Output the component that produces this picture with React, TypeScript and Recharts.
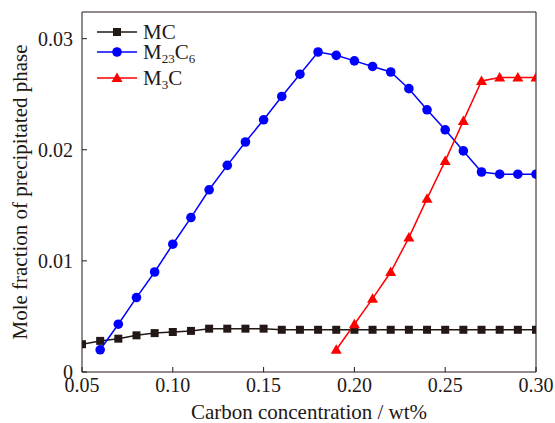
import { LineChart, Line, XAxis, YAxis } from "recharts";

const carbon = [
  0.05, 0.06, 0.07, 0.08, 0.09, 0.1, 0.11, 0.12, 0.13, 0.14, 0.15, 0.16, 0.17,
  0.18, 0.19, 0.2, 0.21, 0.22, 0.23, 0.24, 0.25, 0.26, 0.27, 0.28, 0.29, 0.3,
];

const mcFraction = [
  0.0025, 0.0028, 0.003, 0.0033, 0.0035, 0.0036, 0.0037, 0.0039, 0.0039, 0.0039,
  0.0039, 0.0038, 0.0038, 0.0038, 0.0038, 0.0038, 0.0038, 0.0038, 0.0038, 0.0038,
  0.0038, 0.0038, 0.0038, 0.0038, 0.0038, 0.0038,
];

const m23c6Fraction = [
  null, 0.002, 0.0043, 0.0067, 0.009, 0.0115, 0.0139, 0.0164, 0.0186, 0.0207,
  0.0227, 0.0248, 0.0268, 0.0288, 0.0285, 0.028, 0.0275, 0.027, 0.0255, 0.0236,
  0.0218, 0.0199, 0.018, 0.0178, 0.0178, 0.0178,
];

const m3cFraction = [
  null, null, null, null, null, null, null, null, null, null, null, null, null,
  null, 0.002, 0.0043, 0.0066, 0.009, 0.0121, 0.0156, 0.019, 0.0226, 0.0262,
  0.0265, 0.0265, 0.0265,
];

const xTicks = [0.05, 0.1, 0.15, 0.2, 0.25, 0.3];
const yTicks = [0, 0.01, 0.02, 0.03];

const data = carbon.map((c, i) => ({
  carbon: c,
  mc: mcFraction[i],
  m23c6: m23c6Fraction[i],
  m3c: m3cFraction[i],
}));

const font = '"Liberation Serif", "Times New Roman", serif';
const BLACK = "#231815";
const BLUE = "#0000ff";
const RED = "#ff0000";

const Square = (p: any) =>
  p.cy == null ? null : (
    <rect key={p.index} x={p.cx - 4} y={p.cy - 4} width={8} height={8} fill={BLACK} />
  );
const Circle = (p: any) =>
  p.cy == null ? null : <circle key={p.index} cx={p.cx} cy={p.cy} r={4.8} fill={BLUE} />;
const Triangle = (p: any) =>
  p.cy == null ? null : (
    <path
      key={p.index}
      d={`M${p.cx},${p.cy - 5.5} L${p.cx + 5.5},${p.cy + 4} L${p.cx - 5.5},${p.cy + 4} Z`}
      fill={RED}
    />
  );

const sub = { fontSize: 13, verticalAlign: "-4px", lineHeight: 0 } as const;

const legendRows = [
  { key: "mc", color: BLACK, marker: "square", top: 22, label: <>MC</> },
  {
    key: "m23c6",
    color: BLUE,
    marker: "circle",
    top: 42,
    label: (
      <>
        M<span style={sub}>23</span>C<span style={sub}>6</span>
      </>
    ),
  },
  {
    key: "m3c",
    color: RED,
    marker: "triangle",
    top: 68,
    label: (
      <>
        M<span style={sub}>3</span>C
      </>
    ),
  },
];

function LegendBox() {
  return (
    <div style={{ position: "absolute", left: 96, top: 0, fontFamily: font, pointerEvents: "none" }}>
      {legendRows.map((r) => (
        <div
          key={r.key}
          style={{ position: "absolute", left: 0, top: r.top, display: "flex", alignItems: "center", height: 20, whiteSpace: "nowrap" }}
        >
          <svg width={42} height={14} style={{ display: "block" }}>
            <line x1={1} y1={7} x2={41} y2={7} stroke={r.color} strokeWidth={1.5} />
            {r.marker === "square" && <rect x={17} y={3} width={8} height={8} fill={r.color} />}
            {r.marker === "circle" && <circle cx={21} cy={7} r={4.8} fill={r.color} />}
            {r.marker === "triangle" && <path d="M21,1.5 L26.5,11 L15.5,11 Z" fill={r.color} />}
          </svg>
          <span style={{ fontSize: 21, color: BLACK, marginLeft: 5, lineHeight: "20px" }}>{r.label}</span>
        </div>
      ))}
    </div>
  );
}

export default function App() {
  return (
    <div style={{ position: "absolute", left: 0, top: 0, width: 555, height: 423, background: "#fff" }}>
      <LineChart width={555} height={423} data={data} margin={{ top: 11, right: 18, bottom: 0, left: 0 }}>
        <XAxis
          dataKey="carbon"
          type="number"
          domain={[0.05, 0.3]}
          ticks={xTicks}
          tickFormatter={(v: number) => v.toFixed(2)}
          allowDataOverflow
          height={51}
          stroke={BLACK}
          tickSize={-5}
          tickMargin={11}
          tick={{ fill: BLACK, fontSize: 20, fontFamily: font }}
          label={{ value: "Carbon concentration / wt%", position: "center", dy: 14, fill: BLACK, fontSize: 21, fontFamily: font }}
        />
        <XAxis xAxisId="top" orientation="top" dataKey="carbon" type="number" domain={[0.05, 0.3]} height={1} tick={false} tickLine={false} stroke={BLACK} />
        <YAxis
          domain={[0, 0.0324]}
          ticks={yTicks}
          tickFormatter={(v: number) => (v === 0 ? "0" : v.toFixed(2))}
          allowDataOverflow
          width={82}
          stroke={BLACK}
          tickSize={-5}
          tickMargin={14}
          tick={{ fill: BLACK, fontSize: 20, fontFamily: font }}
          label={{ value: "Mole fraction of precipitated phase", angle: -90, position: "center", dx: -21, fill: BLACK, fontSize: 21, fontFamily: font }}
        />
        <YAxis yAxisId="right" orientation="right" domain={[0, 0.0324]} width={1} tick={false} tickLine={false} stroke={BLACK} />
        <Line dataKey="mc" stroke={BLACK} strokeWidth={1.5} dot={Square} activeDot={false} isAnimationActive={false} />
        <Line dataKey="m23c6" stroke={BLUE} strokeWidth={1.5} dot={Circle} activeDot={false} isAnimationActive={false} />
        <Line dataKey="m3c" stroke={RED} strokeWidth={1.5} dot={Triangle} activeDot={false} isAnimationActive={false} />
      </LineChart>
      <LegendBox />
    </div>
  );
}
